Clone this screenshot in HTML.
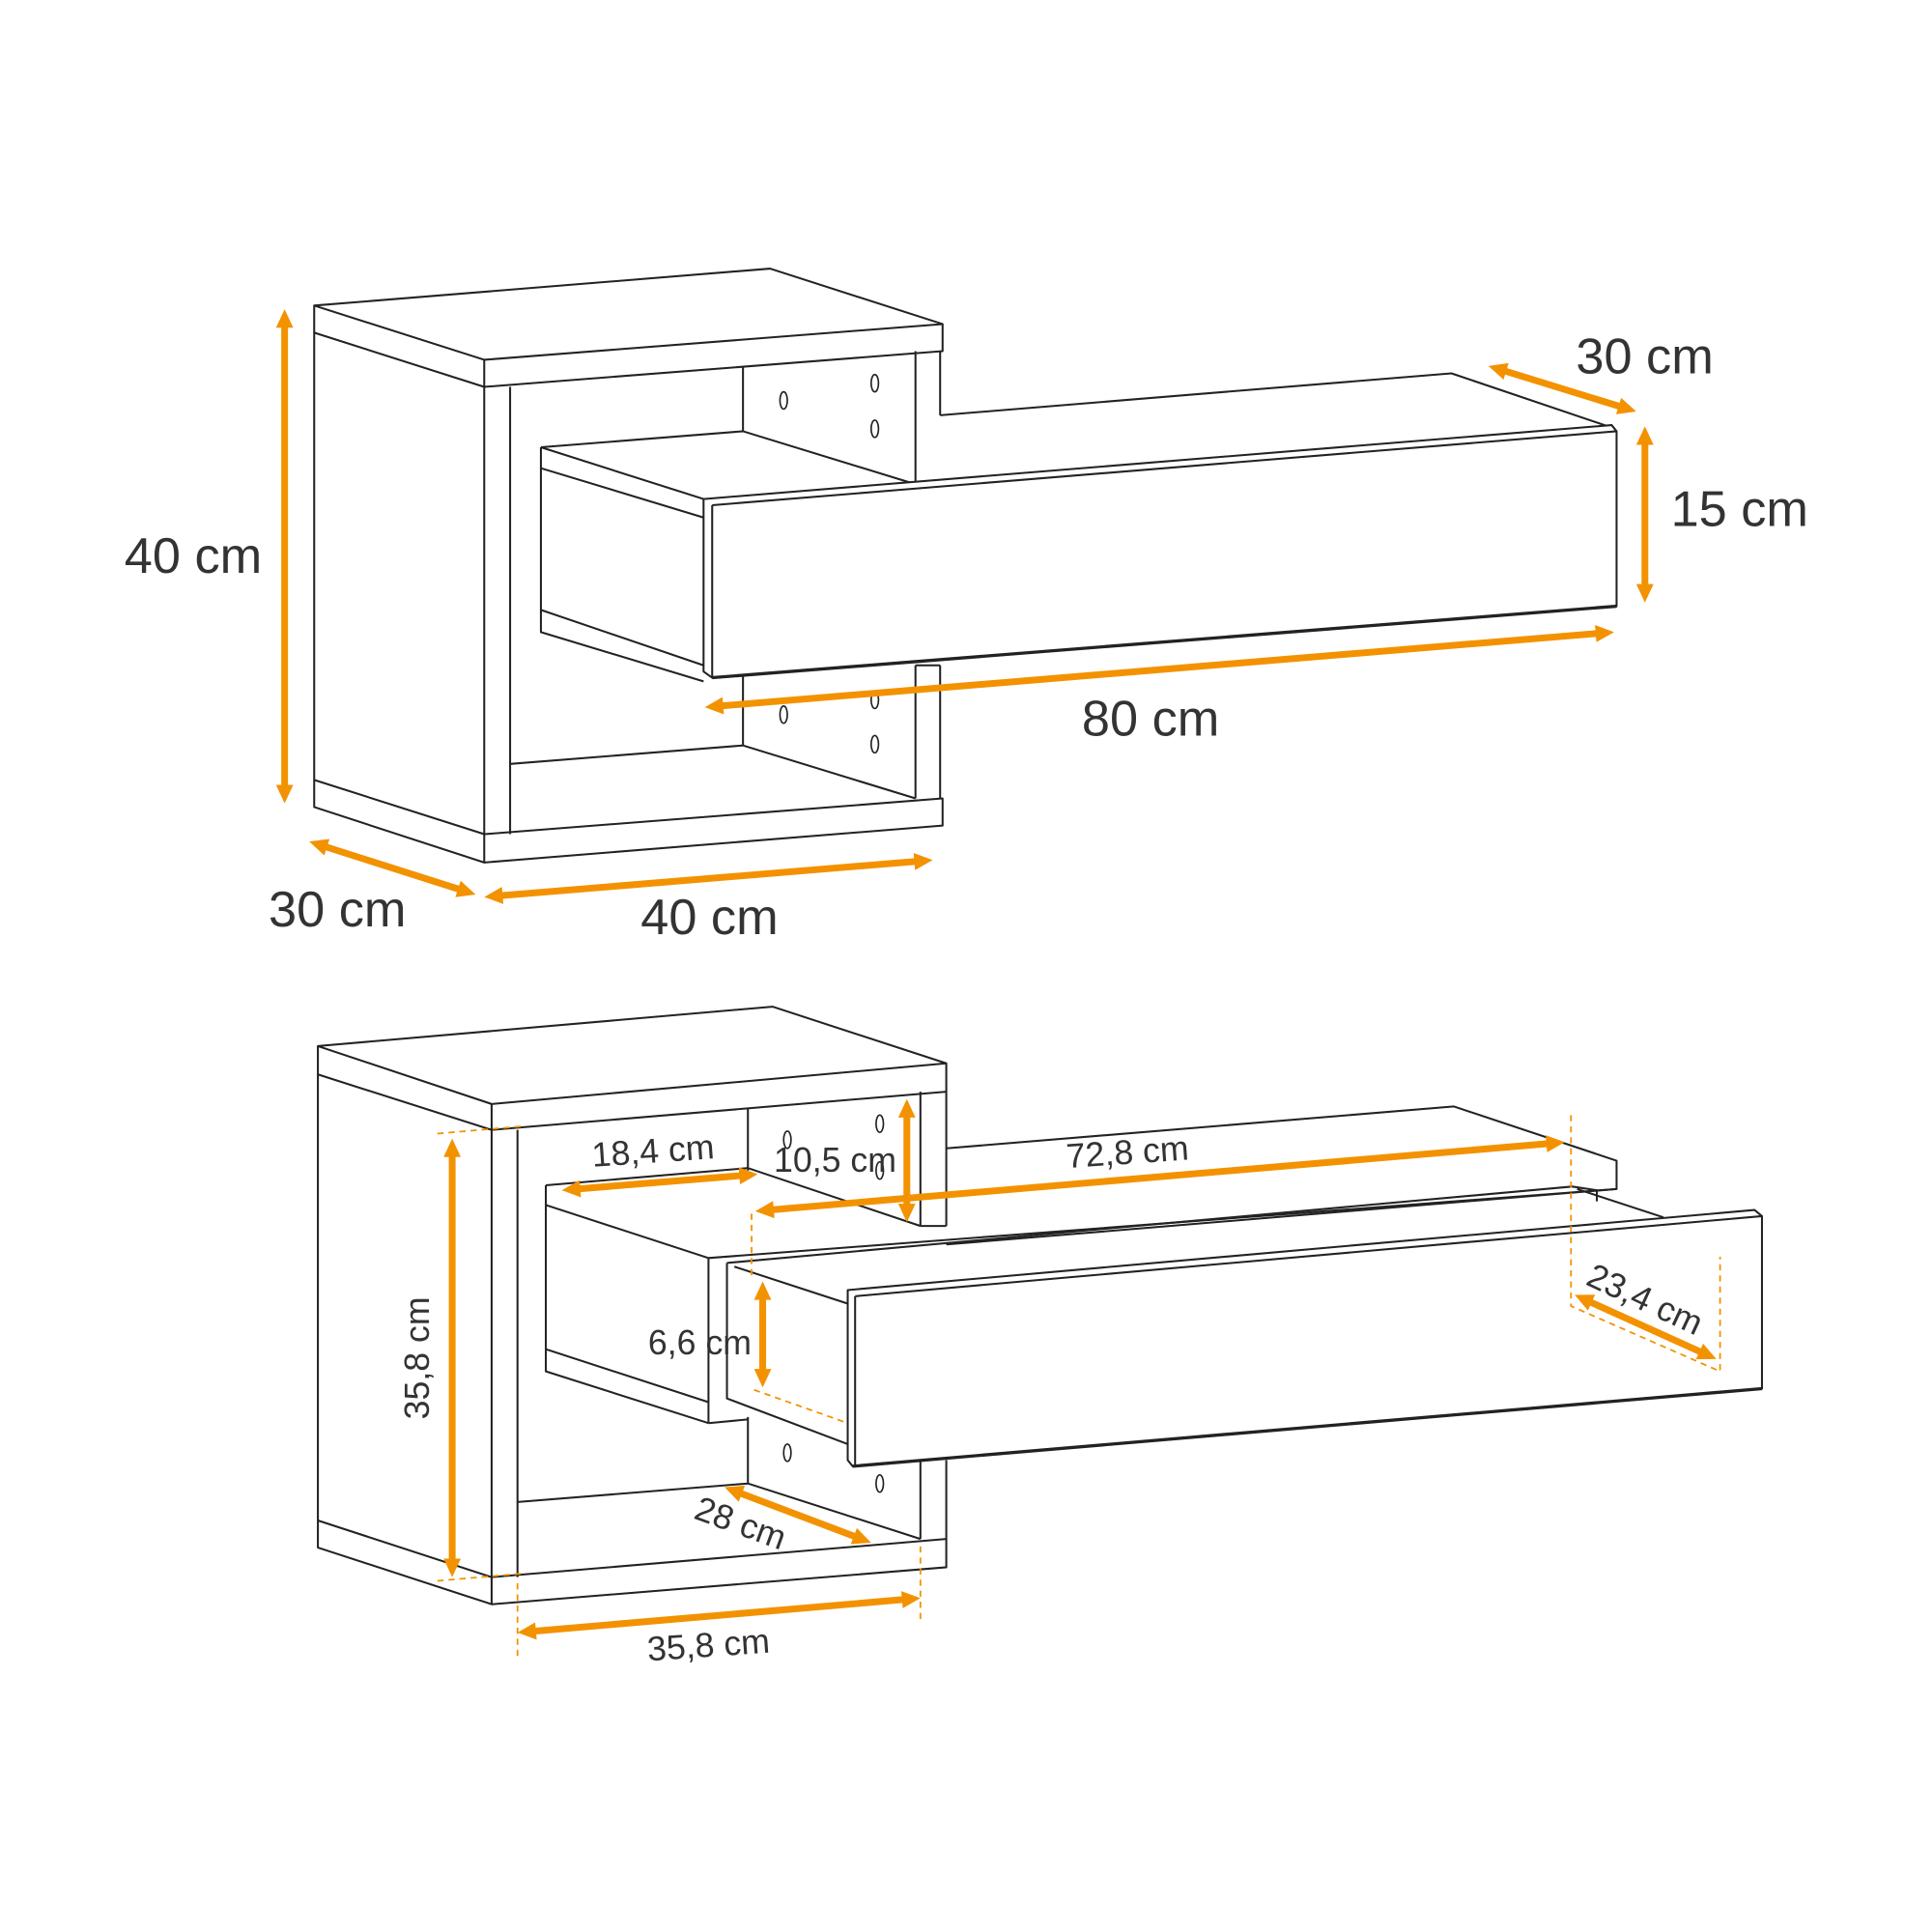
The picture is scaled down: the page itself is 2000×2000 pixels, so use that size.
<!DOCTYPE html>
<html><head><style>html,body{margin:0;padding:0;background:#fff}svg{display:block}</style></head>
<body>
<svg id="s" width="2000" height="2000" viewBox="0 0 1568 1568" xmlns="http://www.w3.org/2000/svg">
<g fill="none" stroke="#222" stroke-width="1.6" stroke-linejoin="round">
<path d="M255,248L625,218L765,263L393,292Z" fill="#fff"/>
<path d="M255,248V270L393,314V292M393,314L765,285V263"/>
<path d="M255,270V655L393,700V314M414,314V677"/>
<path d="M255,633L393,677L765,648V670L393,700M414,620L603,605L743,648M603,605V540M603,298V350"/>
<path d="M743,285V393M763,285V337M743,540V648M763,540V648M743,540H763"/>
<g stroke-width="1.3"><ellipse cx="636" cy="325" rx="3" ry="7"/><ellipse cx="710" cy="311" rx="3" ry="7"/><ellipse cx="710" cy="348" rx="3" ry="7"/><ellipse cx="636" cy="580" rx="3" ry="7"/><ellipse cx="710" cy="568" rx="3" ry="7"/><ellipse cx="710" cy="604" rx="3" ry="7"/></g>
<path d="M439,363L603,350L743,393M763,337L1178,303L1308,347" />
<path d="M439,363V513L571,553M439,380L571,420M439,495L571,540M439,363L571,405"/>
<path d="M571,405L1308,345L1312,350V492L578,550L571,545Z" fill="#fff"/>
<path d="M578,410L1312,350M578,410V550"/>
<path d="M578,550L1312,492" stroke-width="2.6"/>
<path d="M258,849L627,817L768,863L399,896Z" fill="#fff"/>
<path d="M258,849V872L399,917V896M399,917L768,886V863"/>
<path d="M258,872V1256L399,1302V917M420,917V1280"/>
<path d="M258,1234L399,1280L768,1249V1272L399,1302M420,1219L607,1204L747,1249M607,1204V1150M607,900V950"/>
<path d="M747,886V995M768,886V995M747,995H768M747,1185V1249M768,1185V1249"/>
<g stroke-width="1.3"><ellipse cx="714" cy="912" rx="3" ry="7"/><ellipse cx="639" cy="925" rx="3" ry="7"/><ellipse cx="714" cy="950" rx="3" ry="7"/><ellipse cx="639" cy="1179" rx="3" ry="7"/><ellipse cx="714" cy="1204" rx="3" ry="7"/></g>
<path d="M443,962L607,948L747,995M768,932L1180,898L1312,942V965L768,1010"/>
<path d="M443,962V1113L575,1155M443,978L575,1021M443,1095L575,1138M575,1021V1155M575,1021L1312,965"/>
<path d="M590,1025L1276,963L1296,966V975M590,1025V1135L688,1172M596,1028L688,1058M1280,965L1350,988"/>
<path d="M575,1155L607,1152"/>
<path d="M688,1047L1424,982L1430,987V1127L692,1190L688,1185Z" fill="#fff"/>
<path d="M694,1052L1430,987M694,1052V1190"/>
<path d="M692,1190L1430,1127" stroke-width="2.6"/>
</g>
<g stroke="#F39200" stroke-width="1.4" stroke-dasharray="5,4" fill="none">
<path d="M610,985V1035M612,1128L688,1155M1275,905V1060L1396,1113V1020M355,920L425,914M355,1283L425,1277M420,1285V1345M747,1255V1318"/>
</g>
<g id="ar"></g>
<g font-family="'Liberation Sans',sans-serif" fill="#333">
<g font-size="41"><text x="101" y="465">40 cm</text><text x="218" y="752">30 cm</text><text x="520" y="758">40 cm</text><text x="1279" y="303">30 cm</text><text x="1356" y="427">15 cm</text><text x="878" y="597">80 cm</text></g>
<g font-size="28"><text x="481" y="947" transform="rotate(-4 481 947)">18,4 cm</text><text x="628" y="951">10,5 cm</text><text x="866" y="948" transform="rotate(-4 866 948)">72,8 cm</text><text x="526" y="1099">6,6 cm</text><text x="526" y="1348" transform="rotate(-4 526 1348)">35,8 cm</text><text x="348" y="1152" transform="rotate(-90 348 1152)">35,8 cm</text><text x="562" y="1232" transform="rotate(20 562 1232)">28 cm</text><text x="1286" y="1042" transform="rotate(25 1286 1042)">23,4 cm</text></g>
</g>
</svg>
<script>
var A=[[231,251,231,652],[251,683,386,726],[393,728,757,698],[1208,297,1328,334],[1335,346,1335,489],[572,574,1310,513],
[367,924,367,1280],[420,1325,747,1297],[456,966,615,953],[613,983,1270,927],[736,892,736,992],[619,1040,619,1126],[588,1207,707,1252],[1278,1051,1393,1103]];
var g=document.getElementById('ar'),h='';
function head(x,y,dx,dy){var L=15,W=7,bx=x-dx*L,by=y-dy*L;return '<polygon fill="#F39200" points="'+x+','+y+' '+(bx-dy*W)+','+(by+dx*W)+' '+(bx+dy*W)+','+(by-dx*W)+'"/>';}
A.forEach(function(a){var dx=a[2]-a[0],dy=a[3]-a[1],l=Math.hypot(dx,dy);dx/=l;dy/=l;
h+='<line x1="'+(a[0]+dx*10)+'" y1="'+(a[1]+dy*10)+'" x2="'+(a[2]-dx*10)+'" y2="'+(a[3]-dy*10)+'" stroke="#F39200" stroke-width="5.5"/>';
h+=head(a[2],a[3],dx,dy)+head(a[0],a[1],-dx,-dy);});
g.innerHTML=h;
</script>
</body></html>
